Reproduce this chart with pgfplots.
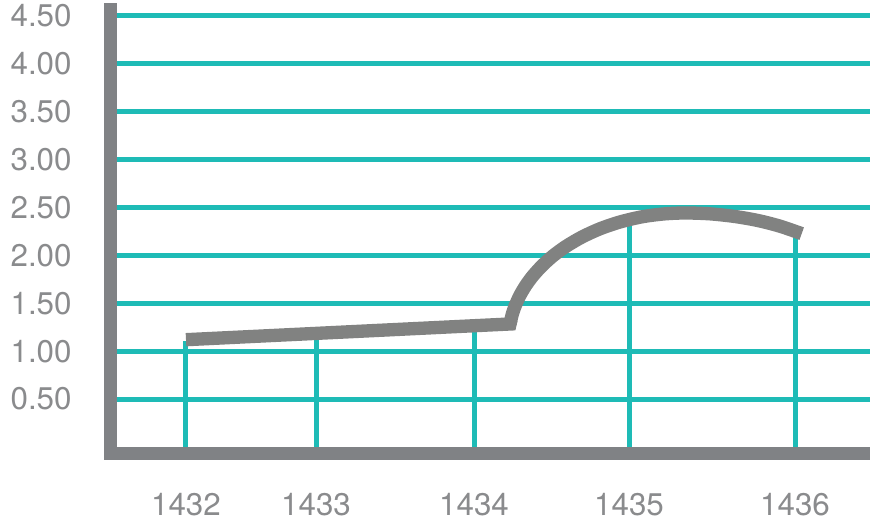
\documentclass[border=0pt]{standalone}
\usepackage{fontspec}
\setmainfont{TeX Gyre Heros}
\usepackage{pgfplots}
\pgfplotsset{compat=1.18}
\definecolor{teal1}{HTML}{1EBBB6}
\definecolor{axgray}{HTML}{808285}
\definecolor{curvegray}{HTML}{818281}
\definecolor{txtgray}{HTML}{8A8B8D}
\begin{document}
\begin{tikzpicture}
\begin{axis}[
  at={(0,0)}, anchor=south west,
  scale only axis,
  width=569.625pt, height=337.5pt,
  xmin=110.5, xmax=870,
  ymin=-0.063, ymax=4.635,
  axis x line=bottom, axis y line=left,
  axis line style={line width=9.75pt, draw=axgray, -},
  x axis line style={line cap=rect},
  xtick={186,316,474,629,795},
  xticklabels={1432,1433,1434,1435,1436},
  ytick={0.5,1,1.5,2,2.5,3,3.5,4,4.5},
  major tick length=0pt,
  ymajorgrids,
  grid style={draw=teal1, line width=3.75pt},
  /pgf/number format/.cd, fixed, fixed zerofill, precision=2, assume math mode=true,
  /pgfplots/.cd,
  tick label style={font=\fontsize{23.5}{27}\selectfont, text=txtgray},
  yticklabel style={anchor=east, inner sep=0pt, xshift=-29pt},
  xticklabel style={anchor=north, inner sep=0pt, yshift=-30pt},
]
\addplot[ycomb, draw=teal1, line width=3.75pt, no marks] coordinates {(186,1.11) (316,1.15) (474,1.20) (629,2.32) (795,2.20)};
\addplot[draw=curvegray, line width=10pt, no marks, line join=miter] coordinates {(186,1.12) (510,1.284) (511,1.33)};
\addplot[draw=curvegray, line width=10pt, no marks, smooth, tension=0.5] coordinates {
(510,1.284) (512,1.375) (515,1.469) (520,1.584) (526,1.689) (533,1.788) (542,1.891) (553,1.995) (566,2.094) (582,2.192) (600,2.278) (620,2.349) (642,2.403) (664,2.433) (685,2.443) (710,2.434) (735,2.406) (758,2.364) (780,2.305) (801.7,2.227)};
\end{axis}
\pgfresetboundingbox
\path (-82.875pt,-54.75pt) rectangle (569.625pt,339.75pt);
\end{tikzpicture}
\end{document}
